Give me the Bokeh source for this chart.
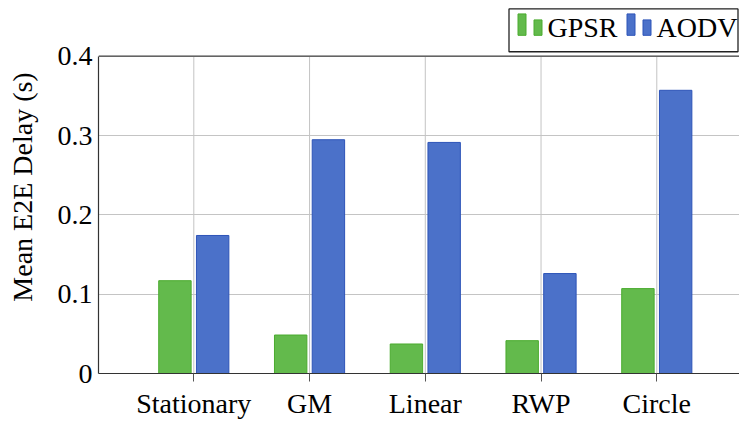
import numpy as np
from bokeh.plotting import figure
from bokeh.models import Range1d, FixedTicker, CustomJSTickFormatter, Span
from bokeh.core.properties import value
from bokeh.embed import file_html
from bokeh.resources import INLINE

# Mean end-to-end delay per mobility model
categories = ["Stationary", "GM", "Linear", "RWP", "Circle"]
gpsr = [0.117, 0.0485, 0.0372, 0.0414, 0.107]
aodv = [0.174, 0.2947, 0.2913, 0.126, 0.357]
y_ticks = [0, 0.1, 0.2, 0.3, 0.4]
y_max = 0.4

FONT = "Liberation Serif"
FS = "28px"
GREEN_FILL, GREEN_LINE = "#63ba4c", "#4aab2e"
BLUE_FILL, BLUE_LINE = "#4b71c9", "#2d54b8"

W, H = 739, 421
LEFT = 98          # frame left edge
BOTTOM = 375       # frame bottom edge (from canvas top)
TOP_AXIS = 56      # where y = y_max sits (from canvas top)

# frame runs to the canvas top so the legend can sit above the axes box
y_end = y_max * BOTTOM / (BOTTOM - TOP_AXIS)

x = np.arange(1, len(categories) + 1)
off = 0.163
bw = 0.28

p = figure(width=W, height=H,
           x_range=Range1d(0.1767, 5.7145), y_range=Range1d(0, y_end),
           output_backend="svg", toolbar_location=None,
           min_border_left=LEFT, min_border_right=0, min_border_top=0,
           min_border_bottom=H - BOTTOM, outline_line_color=None)

# pixel-based ranges for the legend block (y measured upward from frame bottom)
p.extra_x_ranges["px"] = Range1d(LEFT, W)
p.extra_y_ranges["py"] = Range1d(0, BOTTOM)


def up(ys):
    return [BOTTOM - y for y in ys]


# vertical grid lines only across the axes box
p.segment(x0=x, y0=0, x1=x, y1=y_max, line_color="#c4c4c4", line_width=1, level="underlay")

p.vbar(x=x - off, top=gpsr, width=bw, fill_color=GREEN_FILL, line_color=GREEN_LINE, line_width=1)
p.vbar(x=x + off, top=aodv, width=bw, fill_color=BLUE_FILL, line_color=BLUE_LINE, line_width=1)

p.add_layout(Span(location=y_max, dimension="width", line_color="#444444", line_width=1.2))

# legend: box, pgfplots-style two-bar icons, labels
p.quad(left=[508.5], right=[737.5], top=up([8.5]), bottom=up([51.5]),
       fill_color="white", line_color="#222222", line_width=1.3,
       x_range_name="px", y_range_name="py")
p.quad(left=[517.5, 533.5], right=[525.5, 541.5], top=up([13.5, 19.5]), bottom=up([35, 35]),
       fill_color=GREEN_FILL, line_color=GREEN_LINE, line_width=1,
       x_range_name="px", y_range_name="py")
p.quad(left=[626.5, 642.5], right=[634.5, 650.5], top=up([13.5, 19.5]), bottom=up([35, 35]),
       fill_color=BLUE_FILL, line_color=BLUE_LINE, line_width=1,
       x_range_name="px", y_range_name="py")
p.text(x=[547, 656], y=up([27, 27]), text=["GPSR", "AODV"],
       text_font=value(FONT), text_font_size=FS, text_color="black",
       text_baseline="alphabetic", text_align="left",
       x_range_name="px", y_range_name="py")

p.xaxis.ticker = FixedTicker(ticks=list(x))
p.xaxis.major_label_overrides = {int(i): c for i, c in zip(x, categories)}
p.yaxis.ticker = FixedTicker(ticks=y_ticks)
p.yaxis.formatter = CustomJSTickFormatter(code="return tick == 0 ? '0' : tick.toFixed(1);")
p.yaxis.bounds = (0, y_max)

for ax in (p.xaxis, p.yaxis):
    ax.axis_line_color = "#333333"
    ax.axis_line_width = 1.2
    ax.major_label_text_font = FONT
    ax.major_label_text_font_size = FS
    ax.major_label_text_color = "black"
    ax.minor_tick_line_color = None

p.xaxis.major_tick_in = 0
p.xaxis.major_tick_out = 8
p.xaxis.major_tick_line_color = "#555555"
p.xaxis.major_label_standoff = 6

p.yaxis.major_tick_in = 0
p.yaxis.major_tick_out = 0
p.yaxis.major_label_standoff = 6
p.yaxis.axis_label = "Mean E2E Delay (s)"
p.yaxis.axis_label_text_font = FONT
p.yaxis.axis_label_text_font_size = FS
p.yaxis.axis_label_text_font_style = "normal"
p.yaxis.axis_label_text_color = "black"
p.yaxis.axis_label_standoff = 17

p.xgrid.visible = False
p.ygrid.ticker = FixedTicker(ticks=y_ticks)
p.ygrid.grid_line_color = "#c4c4c4"
p.ygrid.grid_line_width = 1

open("out.html", "w").write(file_html(p, INLINE))
